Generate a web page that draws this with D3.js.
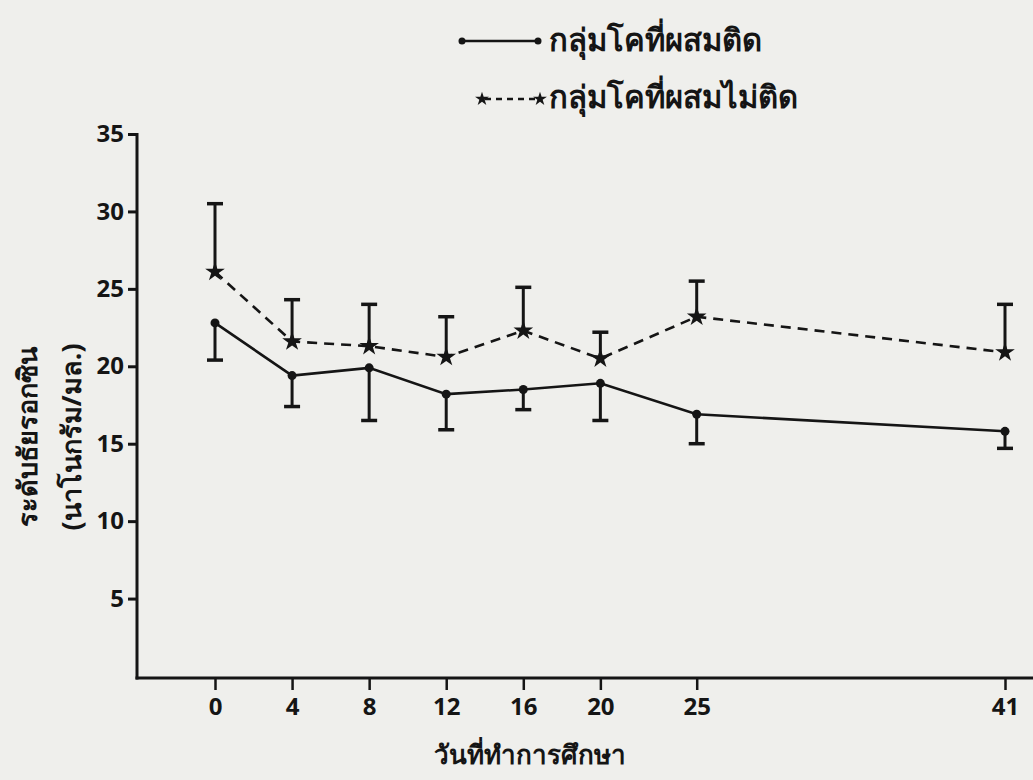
<!DOCTYPE html>
<html>
<head>
<meta charset="utf-8">
<script src="https://cdn.jsdelivr.net/npm/d3@7"></script>
<style>
  body { margin: 0; background: #efefec; }
  svg { display: block; }
  text { font-family: "Noto Sans", "DejaVu Sans", sans-serif; font-weight: bold; fill: #151515; }
</style>
</head>
<body>
<script>
// study days (x) and tick labels
const days = [0, 4, 8, 12, 16, 20, 25, 41];
const yTicks = [5, 10, 15, 20, 25, 30, 35];

// cows that conceived: mean and SD
const pregMean = [22.8, 19.4, 19.9, 18.2, 18.5, 18.9, 16.9, 15.8];
const pregSD = [2.4, 2.0, 3.4, 2.3, 1.3, 2.4, 1.9, 1.1];

// cows that did not conceive: mean and SD
const openMean = [26.1, 21.6, 21.3, 20.6, 22.3, 20.5, 23.2, 20.9];
const openSD = [4.4, 2.7, 2.7, 2.6, 2.8, 1.7, 2.3, 3.1];

const legendLabels = ['กลุ่มโคที่ผสมติด', 'กลุ่มโคที่ผสมไม่ติด'];
const yTitle = ['ระดับธัยรอกซิน', '(นาโนกรัม/มล.)'];
const xTitle = 'วันที่ทำการศึกษา';

const W = 1033, H = 780;
const AXIS_X = 137, AXIS_Y = 678, TOP = 134;
const INK = '#151515';

const svg = d3.select('body').append('svg').attr('width', W).attr('height', H);

const x = d3.scaleLinear().domain([0, 41]).range([215, 1005]);
const y = d3.scaleLinear().domain([0, 35]).range([AXIS_Y - 2, TOP]);

// ticks from d3 axes, axis lines drawn separately so they meet at the corner
const yAxis = svg.append('g')
  .attr('transform', `translate(${AXIS_X},0)`)
  .call(d3.axisLeft(y).tickValues(yTicks).tickSize(9).tickPadding(4));
yAxis.select('.domain').remove();
yAxis.selectAll('line').attr('stroke', INK).attr('stroke-width', 3);
yAxis.selectAll('text').attr('font-size', 24).attr('fill', INK);

svg.append('line')
  .attr('x1', AXIS_X).attr('x2', AXIS_X)
  .attr('y1', TOP - 1).attr('y2', AXIS_Y + 1.5)
  .attr('stroke', INK).attr('stroke-width', 3);

const xAxis = svg.append('g')
  .attr('transform', `translate(0,${AXIS_Y})`)
  .call(d3.axisBottom(x).tickValues(days).tickSize(12).tickPadding(8));
xAxis.select('.domain').remove();
xAxis.selectAll('line').attr('stroke', INK).attr('stroke-width', 2.5);
xAxis.selectAll('text').attr('font-size', 24).attr('fill', INK);

svg.append('line')
  .attr('x1', AXIS_X - 1.5).attr('x2', W)
  .attr('y1', AXIS_Y).attr('y2', AXIS_Y)
  .attr('stroke', INK).attr('stroke-width', 3);

// axis titles
svg.append('text')
  .attr('x', 530).attr('y', 764)
  .attr('text-anchor', 'middle')
  .attr('font-size', 26)
  .text(xTitle);

svg.selectAll('text.ytitle')
  .data(yTitle)
  .enter()
  .append('text')
    .attr('class', 'ytitle')
    .attr('text-anchor', 'middle')
    .attr('font-size', 27)
    .attr('transform', (d, i) => `translate(${37 + i * 44},437) rotate(-90)`)
    .text(d => d);

const preg = days.map((d, i) => ({day: d, mean: pregMean[i], sd: pregSD[i]}));
const open = days.map((d, i) => ({day: d, mean: openMean[i], sd: openSD[i]}));

const line = d3.line().x(d => x(d.day)).y(d => y(d.mean));
const star = d3.symbol().type(d3.symbolStar).size(120);
const CAP = 8;

// error bars: conceived group downward, non-conceived upward
function errorBars(data, dir, cls) {
  const g = svg.append('g').attr('class', cls);
  g.selectAll('line.stem')
    .data(data)
    .enter()
    .append('line')
      .attr('x1', d => x(d.day)).attr('x2', d => x(d.day))
      .attr('y1', d => y(d.mean)).attr('y2', d => y(d.mean + dir * d.sd))
      .attr('stroke', INK).attr('stroke-width', 3);
  g.selectAll('line.cap')
    .data(data)
    .enter()
    .append('line')
      .attr('x1', d => x(d.day) - CAP).attr('x2', d => x(d.day) + CAP)
      .attr('y1', d => y(d.mean + dir * d.sd)).attr('y2', d => y(d.mean + dir * d.sd))
      .attr('stroke', INK).attr('stroke-width', 3.5);
}

errorBars(preg, -1, 'err-preg');
errorBars(open, 1, 'err-open');

svg.append('path')
  .datum(preg)
  .attr('d', line)
  .attr('fill', 'none').attr('stroke', INK).attr('stroke-width', 2.6);

svg.append('path')
  .datum(open)
  .attr('d', line)
  .attr('fill', 'none').attr('stroke', INK).attr('stroke-width', 2.6)
  .attr('stroke-dasharray', '10,7');

svg.selectAll('circle.preg')
  .data(preg)
  .enter()
  .append('circle')
    .attr('class', 'preg')
    .attr('cx', d => x(d.day)).attr('cy', d => y(d.mean))
    .attr('r', 4.5).attr('fill', INK);

svg.selectAll('path.open')
  .data(open)
  .enter()
  .append('path')
    .attr('class', 'open')
    .attr('d', star)
    .attr('transform', d => `translate(${x(d.day)},${y(d.mean)})`)
    .attr('fill', INK);

// legend
const legend = svg.append('g');
legend.append('line')
  .attr('x1', 462).attr('x2', 538).attr('y1', 41).attr('y2', 41)
  .attr('stroke', INK).attr('stroke-width', 2.5);
legend.selectAll('circle')
  .data([462, 538])
  .enter()
  .append('circle')
    .attr('cx', d => d).attr('cy', 41).attr('r', 3.5).attr('fill', INK);
legend.append('line')
  .attr('x1', 485).attr('x2', 537).attr('y1', 99).attr('y2', 99)
  .attr('stroke', INK).attr('stroke-width', 2.5)
  .attr('stroke-dasharray', '6,5');
legend.selectAll('path')
  .data([482, 540])
  .enter()
  .append('path')
    .attr('d', d3.symbol().type(d3.symbolStar).size(60))
    .attr('transform', d => `translate(${d},99)`)
    .attr('fill', INK);
legend.selectAll('text')
  .data(legendLabels)
  .enter()
  .append('text')
    .attr('x', 549)
    .attr('y', (d, i) => 51 + i * 57)
    .attr('font-size', 31)
    .text(d => d);
</script>
</body>
</html>
